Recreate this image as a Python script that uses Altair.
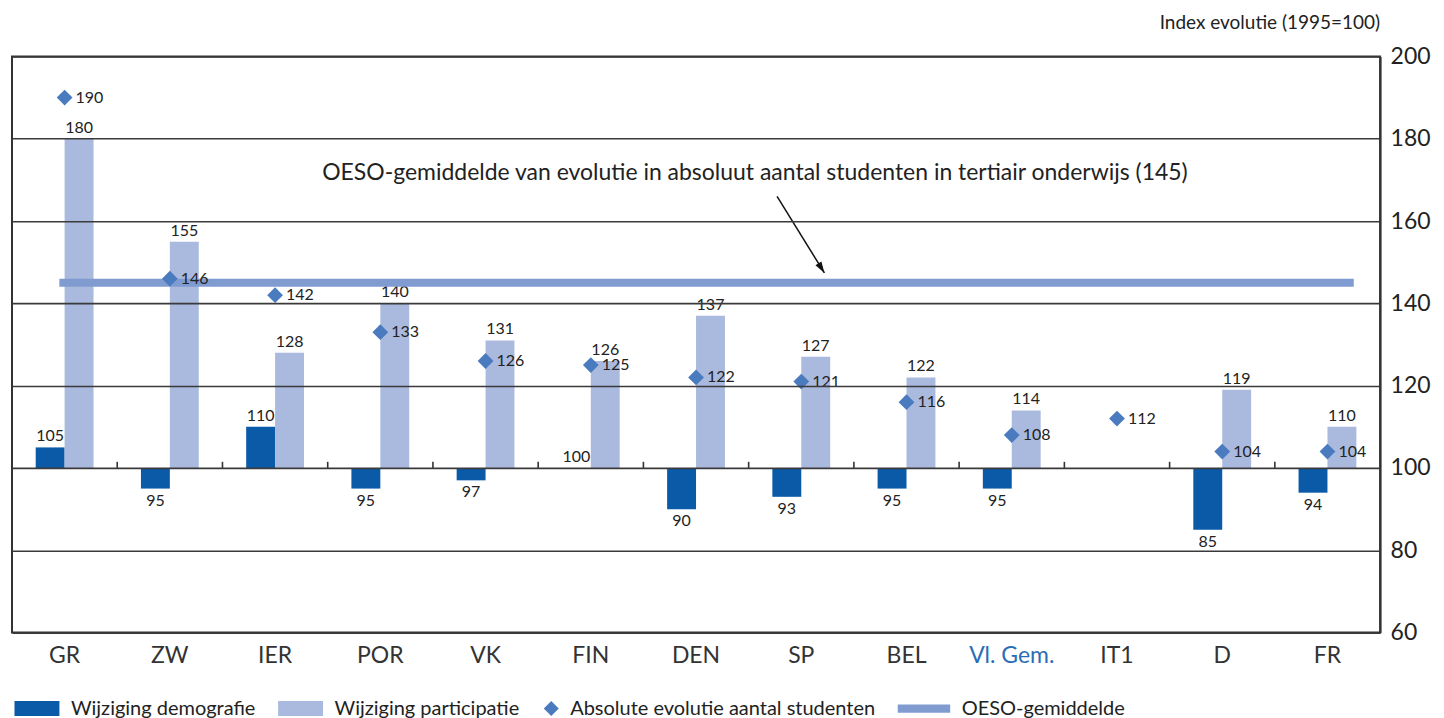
import altair as alt
import pandas as pd

# ---- data ----
categories = ["GR", "ZW", "IER", "POR", "VK", "FIN", "DEN", "SP", "BEL", "Vl. Gem.", "IT1", "D", "FR"]
demografie = [105, 95, 110, 95, 97, 100, 90, 93, 95, 95, None, 85, 94]
participatie = [180, 155, 128, 140, 131, 126, 137, 127, 122, 114, None, 119, 110]
absoluut = [190, 146, 142, 133, 126, 125, 122, 121, 116, 108, 112, 104, 104]
oeso_gemiddelde = [145]
y_ticks = [60, 80, 100, 120, 140, 160, 180, 200]
basis = 100

series_names = ["Wijziging demografie", "Wijziging participatie",
                "Absolute evolutie aantal studenten", "OESO-gemiddelde"]
series_colors = ["#0a5aa8", "#aab9de", "#4a7bbf", "#7f9bd0"]
legend_shapes = ["M-5,-1H1V1H-5Z", "M-5,-1H1V1H-5Z", "diamond", "M-6,-0.55H1V0.55H-6Z"]

annotation = "OESO-gemiddelde van evolutie in absoluut aantal studenten in tertiair onderwijs (145)"
y_title = "Index  evolutie (1995=100)"

# ---- tables ----
rows = []
for c, d, p in zip(categories, demografie, participatie):
    if d is not None:
        rows.append({"land": c, "reeks": series_names[0], "waarde": d})
    if p is not None:
        rows.append({"land": c, "reeks": series_names[1], "waarde": p})
bars_df = pd.DataFrame(rows)
abs_df = pd.DataFrame({"land": categories, "reeks": series_names[2], "waarde": absoluut})
oeso_df = pd.DataFrame({"begin": [categories[0]], "eind": [categories[-1]],
                        "reeks": [series_names[3]], "waarde": oeso_gemiddelde})
ticks_df = pd.DataFrame({"land": categories[1:]})

FONT = "Lato"
TXT = "#222222"

x_scale = alt.Scale(domain=categories, paddingInner=0, paddingOuter=0)
y_scale = alt.Scale(domain=[60, 200], nice=False, zero=False)
color_scale = alt.Scale(domain=series_names, range=series_colors)
shape_scale = alt.Scale(domain=series_names, range=legend_shapes)
off_scale = alt.Scale(domain=series_names[:2], paddingInner=0, paddingOuter=0.82)

x_axis = alt.Axis(title=None, labelAngle=0, ticks=False, domain=False, grid=False,
                  labelFontSize=23, labelFont=FONT, labelPadding=12,
                  labelColor=alt.condition("datum.value === 'Vl. Gem.'",
                                           alt.value("#2a6db5"), alt.value("#333333")))
y_axis = alt.Axis(title=None, orient="right", values=y_ticks, ticks=False,
                  labelFontSize=23, labelFont=FONT, labelColor=TXT, labelPadding=10,
                  domainColor="#333333", domainWidth=2, grid=True,
                  gridColor="#3a3a3a", gridWidth=1.6, zindex=1)

legend = alt.Legend(title=None, orient="none", legendX=30, legendY=643,
                    direction="horizontal", columns=4, columnPadding=22,
                    labelFontSize=20, labelFont=FONT, labelColor=TXT, labelOffset=9,
                    labelLimit=0, symbolSize=225, symbolStrokeWidth=0)

X = alt.X("land:N", scale=x_scale, axis=x_axis)
Y = alt.Y("waarde:Q", scale=y_scale, axis=y_axis)

bars = alt.Chart(bars_df).mark_bar().encode(
    x=X, xOffset=alt.XOffset("reeks:N", scale=off_scale),
    y=Y, y2=alt.datum(basis),
    color=alt.Color("reeks:N", scale=color_scale, legend=legend),
)

lbl = dict(fontSize=16, font=FONT, color=TXT)
part_labels = alt.Chart(bars_df).transform_filter(
    alt.datum.reeks == series_names[1]
).mark_text(baseline="bottom", dy=-3, **lbl).encode(
    x=X, xOffset=alt.XOffset("reeks:N", scale=off_scale), y=Y, text="waarde:Q")

demo_up = alt.Chart(bars_df).transform_filter(
    (alt.datum.reeks == series_names[0]) & (alt.datum.waarde >= basis)
).mark_text(baseline="bottom", dy=-3, **lbl).encode(
    x=X, xOffset=alt.XOffset("reeks:N", scale=off_scale), y=Y, text="waarde:Q")

demo_down = alt.Chart(bars_df).transform_filter(
    (alt.datum.reeks == series_names[0]) & (alt.datum.waarde < basis)
).mark_text(baseline="top", dy=4, **lbl).encode(
    x=X, xOffset=alt.XOffset("reeks:N", scale=off_scale), y=Y, text="waarde:Q")

ticks = alt.Chart(ticks_df).mark_rule(color="#333333", strokeWidth=1.6).encode(
    x=alt.X("land:N", scale=x_scale, axis=x_axis, bandPosition=0),
    y=alt.datum(basis), y2=alt.datum(basis + 1.5))

oeso_rule = alt.Chart(oeso_df).mark_rule(strokeWidth=8).encode(
    x=alt.X("begin:N", scale=x_scale, axis=x_axis, bandPosition=0.45),
    x2=alt.X2("eind:N", bandPosition=0.75),
    y=Y,
    color=alt.Color("reeks:N", scale=color_scale, legend=legend),
)

points = alt.Chart(abs_df).mark_point(filled=True, opacity=1, size=250, strokeWidth=0).encode(
    x=X, y=Y,
    color=alt.Color("reeks:N", scale=color_scale, legend=legend),
    shape=alt.Shape("reeks:N", scale=shape_scale, legend=legend),
)

abs_labels = alt.Chart(abs_df).mark_text(align="left", baseline="middle", dx=11, **lbl).encode(
    x=X, y=Y, text="waarde:Q")

arrow = alt.Chart(oeso_df).mark_rule(color="#111111", strokeWidth=1.5).encode(
    x=alt.XDatum(categories[7], scale=x_scale, bandPosition=0.27),
    x2=alt.X2Datum(categories[7], bandPosition=0.72),
    y=alt.YDatum(166.0, scale=y_scale), y2=alt.Y2Datum(147.4))

arrowhead = alt.Chart(oeso_df).mark_point(
    shape="M0,0L-0.5,-1.6L0.5,-1.6Z", filled=True, opacity=1, color="#111111",
    size=200, angle=328, strokeWidth=0).encode(
    x=alt.XDatum(categories[7], scale=x_scale, bandPosition=0.72),
    y=alt.YDatum(147.4, scale=y_scale))

annot = alt.Chart(oeso_df).mark_text(fontSize=23, font=FONT, color=TXT, align="center",
                                     baseline="middle", text=annotation).encode(
    x=alt.XDatum(categories[7], scale=x_scale, bandPosition=0.06),
    y=alt.YDatum(171.6, scale=y_scale))

chart = alt.layer(
    bars, part_labels, demo_up, demo_down, ticks, oeso_rule, points, abs_labels,
    arrow, arrowhead, annot
).properties(
    width=1370, height=577,
    padding={"left": 4, "top": 6, "right": 5, "bottom": 0},
    title=alt.Title(y_title, anchor="end", frame="group", fontSize=19, font=FONT,
                    fontWeight="normal", color=TXT, offset=12),
).configure_view(stroke="#333333", strokeWidth=2)

chart.save("out.html", embed_options={"renderer": "svg", "actions": False})
